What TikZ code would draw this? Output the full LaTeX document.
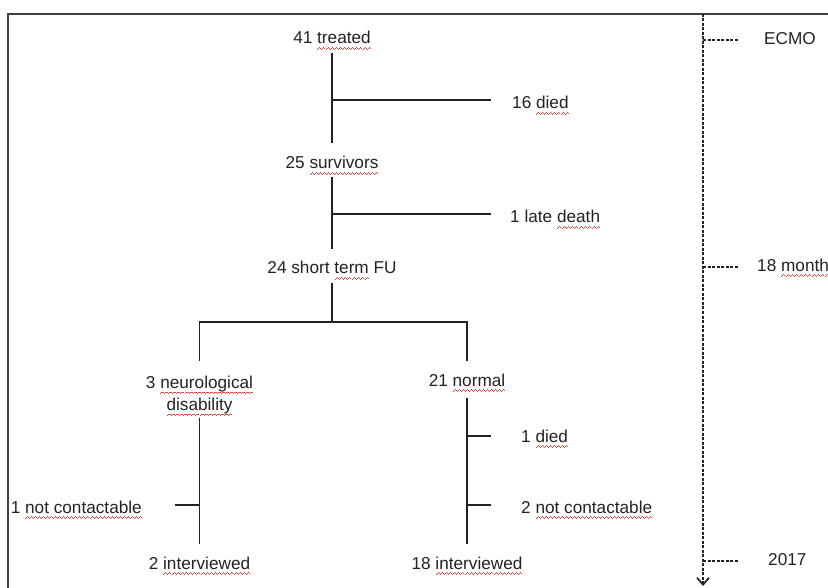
\documentclass[tikz,border=0pt]{standalone}
\usepackage{fontspec}
\setmainfont{Liberation Sans}
\usetikzlibrary{arrows.meta}
\definecolor{ink}{HTML}{222222}
\definecolor{wavy}{HTML}{E8413B}
\newcommand\spell[1]{\setbox0\hbox{#1}\rlap{\raisebox{-5.5pt}[0pt][0pt]{\color{wavy}\hbox to\wd0{\xleaders\hbox{\rule{1pt}{0.9pt}\rule[0.8pt]{1pt}{0.9pt}\rule[1.6pt]{1pt}{0.9pt}\rule[0.8pt]{1pt}{0.9pt}}\hfil}}}\box0\relax}

\begin{document}
\begin{tikzpicture}[x=1pt,y=-1pt,
	txt/.style={font=\fontsize{17.2}{22}\selectfont, text=ink, inner sep=0pt},
	lbl/.style={txt, text height=12.5pt, text depth=3.5pt},
	tree/.style={line width=1.4pt, ink},
	time/.style={line width=1.3pt, ink, dash pattern=on 3pt off 1.5pt}]
				\useasboundingbox (0,0) rectangle (828,588);
				% Frame
				\draw[line width=1.3pt, black!75] (8,588) -- (8,14) -- (828,14);
				% Stages
				\node[lbl, anchor=base] (treated) at (332,44) {41 \spell{treated}};
				\node[lbl, anchor=base] (surv) at (332,169) {25 \spell{survivors}};
				\node[lbl, anchor=base] (shortfu) at (332,274) {24 short \spell{term} FU};
				\node[txt, align=center, anchor=north] (neuro) at (199.5,376) {3 \spell{neurological}\\\spell{disability}};
				\node[lbl, anchor=base] (normal) at (467,386) {21 \spell{normal}};
				\node[lbl, anchor=base] (int2) at (199.5,569) {2 \spell{interviewed}};
				\node[lbl, anchor=base] (int18) at (467,569) {18 \spell{interviewed}};
				% Losses
				\node[lbl, anchor=base west] (died) at (512,109) {16 \spell{died}};
				\node[lbl, anchor=base west] (late) at (510,223) {1 late \spell{death}};
				\node[lbl, anchor=base west] (died1) at (521,442) {1 \spell{died}};
				\node[lbl, anchor=base west] (nc2) at (521,513) {2 \spell{not contactable}};
				\node[lbl, anchor=base east] (nc1) at (142,513) {1 \spell{not contactable}};
				% Branch points
				\coordinate (b1) at (332,100);
				\coordinate (b2) at (332,214);
				\coordinate (split) at (332,322);
				\coordinate (b3) at (467,436);
				\coordinate (b4) at (467,505);
				\coordinate (b5) at (199.5,505);
				% Tree
				\draw[tree, shorten <=5.5pt, shorten >=13.5pt] (treated.south) -- (surv.north);
				\draw[tree, shorten <=4.5pt, shorten >=12.5pt] (surv.south) -- (shortfu.north);
				\draw[tree, shorten <=5.5pt] (shortfu.south) -- (split);
				\draw[tree] ([yshift=15pt]neuro.north) |- (split) -| ([yshift=12.5pt]normal.north);
				\draw[tree, shorten <=3.5pt, shorten >=12.5pt] (neuro.south) -- (int2.north);
				\draw[tree, shorten <=8.5pt, shorten >=12.5pt] (normal.south) -- (int18.north);
				\draw[tree, shorten >=21pt] (b1) -- (b1 -| died.west);
				\draw[tree, shorten >=19pt] (b2) -- (b2 -| late.west);
				\draw[tree, shorten >=30pt] (b3) -- (b3 -| died1.west);
				\draw[tree, shorten >=30pt] (b4) -- (b4 -| nc2.west);
				\draw[tree, shorten >=33pt] (b5) -- (b5 -| nc1.east);
				% Timeline
				\coordinate (ttop) at (703,14);
				\coordinate (tend) at (703,586);
				\draw[time, -{Straight Barb[length=7pt,width=12pt,line width=1.7pt]}] (ttop) -- (tend);
				\foreach \name/\x/\y/\txt in {ecmo/764/40/ECMO, month/757/267/18 \spell{month}, year/768/561/2017} {
					\node[lbl, anchor=west] (\name) at (\x,\y) {\txt};
					\draw[time] (ttop |- \name.west) -- ++(36,0);
				}
			\end{tikzpicture}
\end{document}
